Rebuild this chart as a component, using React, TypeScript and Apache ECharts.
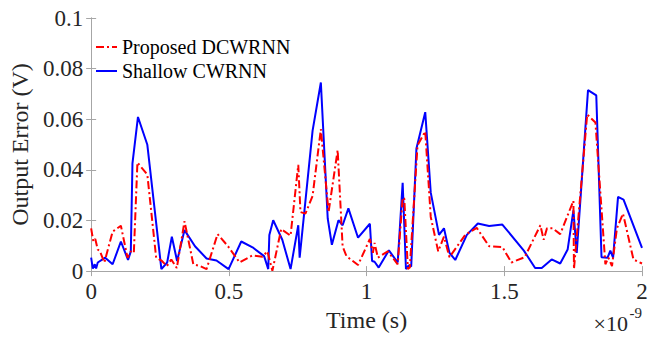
import React, { useEffect, useRef } from "react";
import * as echarts from "echarts";

const xTickLabels = ["0", "0.5", "1", "1.5", "2"];
const yTickLabels = ["0", "0.02", "0.04", "0.06", "0.08", "0.1"];

const seriesNames = ["Proposed DCWRNN", "Shallow CWRNN"];

// time in units of 1e-9 s
const redTime = [
  0.0, 0.008, 0.015, 0.024, 0.032, 0.048, 0.078, 0.108, 0.132, 0.144, 0.155, 0.168, 0.204,
  0.236, 0.257, 0.275, 0.291, 0.311, 0.339, 0.371, 0.395, 0.419, 0.459, 0.497, 0.539, 0.586,
  0.622, 0.64, 0.658, 0.69, 0.724, 0.752, 0.76, 0.778, 0.804, 0.834, 0.862, 0.895, 0.913,
  0.927, 0.969, 1.012, 1.023, 1.029, 1.041, 1.077, 1.113, 1.131, 1.137, 1.15, 1.157, 1.185,
  1.213, 1.233, 1.26, 1.281, 1.301, 1.358, 1.4, 1.445, 1.493, 1.526, 1.574, 1.631, 1.643,
  1.655, 1.676, 1.703, 1.751, 1.753, 1.801, 1.831, 1.867, 1.878, 1.891, 1.909, 1.931, 1.969,
  2.0,
];
const redError = [
  0.0169, 0.0117, 0.0127, 0.0085, 0.0078, 0.0034, 0.0156, 0.0179, 0.0053, 0.0078, 0.0072,
  0.0429, 0.0381, 0.0053, 0.004, 0.002, 0.0046, 0.0012, 0.0197, 0.0027, 0.002, 0.0008, 0.0146,
  0.0098, 0.0034, 0.0062, 0.0057, 0.0078, 0.0001, 0.0166, 0.014, 0.042, 0.0233, 0.0227,
  0.0297, 0.0561, 0.0233, 0.0478, 0.0098, 0.0059, 0.0024, 0.0127, 0.0072, 0.0111, 0.0053,
  0.0078, 0.0027, 0.029, 0.0286, 0.0008, 0.0014, 0.0497, 0.0552, 0.0214, 0.0078, 0.0136,
  0.0055, 0.0143, 0.0171, 0.0098, 0.0095, 0.0034, 0.0055, 0.0181, 0.0124, 0.0169, 0.0169,
  0.0146, 0.0278, 0.0008, 0.0619, 0.0587, 0.0027, 0.0053, 0.002, 0.0169, 0.0227, 0.0046,
  0.003,
];

const blueTime = [
  0.0, 0.006, 0.013, 0.018, 0.024, 0.051, 0.078, 0.108, 0.134, 0.144, 0.15, 0.17, 0.204,
  0.255, 0.276, 0.293, 0.312, 0.339, 0.377, 0.419, 0.455, 0.499, 0.545, 0.586, 0.628, 0.643,
  0.647, 0.661, 0.694, 0.724, 0.752, 0.757, 0.804, 0.834, 0.859, 0.874, 0.898, 0.913, 0.934,
  0.969, 1.012, 1.02, 1.029, 1.044, 1.081, 1.113, 1.131, 1.143, 1.153, 1.162, 1.181, 1.213,
  1.233, 1.263, 1.281, 1.301, 1.322, 1.364, 1.404, 1.445, 1.493, 1.571, 1.612, 1.636, 1.672,
  1.703, 1.73, 1.751, 1.763, 1.804, 1.834, 1.853, 1.875, 1.885, 1.895, 1.913, 1.933, 2.0,
];
const blueError = [
  0.0053, 0.001, 0.0027, 0.001, 0.0034, 0.0053, 0.0027, 0.0117, 0.0044, 0.0078, 0.0426,
  0.0609, 0.0499, 0.0008, 0.0034, 0.0136, 0.004, 0.0162, 0.0098, 0.005, 0.0042, 0.0008,
  0.0117, 0.0094, 0.0059, 0.0008, 0.0143, 0.0201, 0.0124, 0.0008, 0.0181, 0.0053, 0.0555,
  0.0745, 0.0207, 0.0104, 0.0201, 0.0181, 0.0248, 0.0132, 0.0187, 0.004, 0.0037, 0.0014,
  0.0082, 0.0034, 0.0349, 0.0008, 0.0023, 0.0018, 0.0484, 0.0628, 0.031, 0.0143, 0.0169,
  0.0072, 0.0044, 0.0143, 0.0188, 0.0178, 0.0184, 0.0081, 0.0012, 0.0012, 0.0046, 0.003,
  0.0085, 0.024, 0.0072, 0.0715, 0.0694, 0.0055, 0.0053, 0.0081, 0.0053, 0.0293, 0.0282,
  0.0092,
];

const FONT = "'Liberation Serif', 'Times New Roman', serif";
const AXIS_GRAY = "#a6a6a6";
const TEXT = "#262626";

export default function App() {
  const ref = useRef<HTMLDivElement>(null);

  useEffect(() => {
    document.body.style.margin = "0";
    if (!ref.current) return;
    const chart = echarts.init(ref.current, undefined, { renderer: "svg" });
    const redData = redTime.map((t, i) => [t, redError[i]]);
    const blueData = blueTime.map((t, i) => [t, blueError[i]]);

    const xFmt = (v: number) => {
      const idx = Math.round(v / 0.5);
      return xTickLabels[idx] ?? String(v);
    };
    const yFmt = (v: number) => {
      const idx = Math.round(v / 0.02);
      return yTickLabels[idx] ?? String(v);
    };

    const baseAxisLine = { show: true, lineStyle: { color: AXIS_GRAY, width: 1 } };
    const tick = { show: true, inside: true, length: 5, lineStyle: { color: AXIS_GRAY } };

    chart.setOption({
      animation: false,
      backgroundColor: "#ffffff",
      grid: { left: 85, right: 14, top: 18, bottom: 60, containLabel: false },
      legend: {
        orient: "vertical",
        left: 95,
        top: 37,
        padding: 0,
        itemWidth: 21,
        itemHeight: 14,
        itemGap: 4,
        itemStyle: { opacity: 0 },
        data: seriesNames,
        textStyle: { fontFamily: FONT, fontSize: 20, color: "#000", lineHeight: 20 },
      },
      xAxis: [
        {
          type: "value",
          min: 0,
          max: 2,
          interval: 0.5,
          position: "bottom",
          name: "Time (s)",
          nameLocation: "middle",
          nameGap: 34,
          nameTextStyle: { fontFamily: FONT, fontSize: 24, color: TEXT },
          axisLine: baseAxisLine,
          axisTick: tick,
          axisLabel: {
            margin: 9,
            fontFamily: FONT,
            fontSize: 23,
            color: TEXT,
            formatter: xFmt,
          },
          splitLine: { show: false },
        },
        {
          type: "value",
          min: 0,
          max: 2,
          interval: 0.5,
          position: "top",
          axisLine: baseAxisLine,
          axisTick: tick,
          axisLabel: { show: false },
          splitLine: { show: false },
        },
      ],
      yAxis: [
        {
          type: "value",
          min: 0,
          max: 0.1,
          interval: 0.02,
          position: "left",
          name: "Output Error (V)",
          nameLocation: "middle",
          nameGap: 54,
          nameTextStyle: { fontFamily: FONT, fontSize: 24, color: TEXT },
          axisLine: baseAxisLine,
          axisTick: tick,
          axisLabel: {
            margin: 8,
            fontFamily: FONT,
            fontSize: 23,
            color: TEXT,
            formatter: yFmt,
          },
          splitLine: { show: false },
        },
        {
          type: "value",
          min: 0,
          max: 0.1,
          interval: 0.02,
          position: "right",
          axisLine: baseAxisLine,
          axisTick: tick,
          axisLabel: { show: false },
          splitLine: { show: false },
        },
      ],
      series: [
        {
          name: seriesNames[0],
          type: "line",
          data: redData,
          symbol: "none",
          z: 3,
          lineStyle: { color: "#ff0000", width: 2, type: [8, 3, 2, 3] },
          itemStyle: { color: "#ff0000" },
        },
        {
          name: seriesNames[1],
          type: "line",
          data: blueData,
          symbol: "none",
          z: 2,
          lineStyle: { color: "#0000ff", width: 2 },
          itemStyle: { color: "#0000ff" },
        },
      ],
      graphic: [
        {
          type: "text",
          right: 28,
          top: 312,
          style: { text: "×10", fontFamily: FONT, fontSize: 22, fill: TEXT },
        },
        {
          type: "text",
          right: 14,
          top: 305,
          style: { text: "-9", fontFamily: FONT, fontSize: 15, fill: TEXT },
        },
      ],
    });
    return () => chart.dispose();
  }, []);

  return <div ref={ref} style={{ width: 656, height: 337 }} />;
}
